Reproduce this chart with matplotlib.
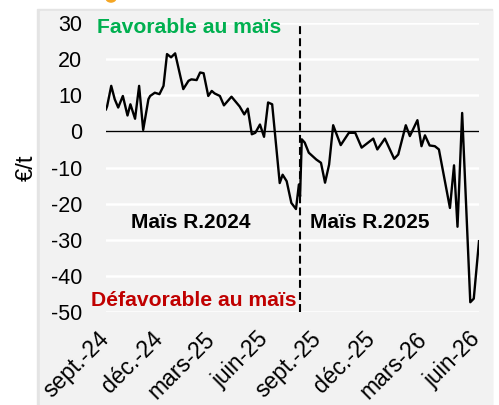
import matplotlib.pyplot as plt
import pandas as pd
from matplotlib.patches import Rectangle, Circle

plt.rcParams["font.family"] = ["Liberation Sans", "DejaVu Sans"]
plt.rcParams["axes.unicode_minus"] = False

# spread maïs (€/t)
dates = [
    "2024-09-01", "2024-09-03", "2024-09-10", "2024-09-16", "2024-09-22",
    "2024-09-30", "2024-10-08", "2024-10-13", "2024-10-21", "2024-10-28",
    "2024-11-04", "2024-11-13", "2024-11-16", "2024-11-24", "2024-12-02",
    "2024-12-09", "2024-12-15", "2024-12-22", "2024-12-29", "2025-01-12",
    "2025-01-21", "2025-01-26", "2025-02-04", "2025-02-10", "2025-02-16",
    "2025-02-24", "2025-03-02", "2025-03-07", "2025-03-16", "2025-03-23",
    "2025-04-05", "2025-04-19", "2025-04-27", "2025-05-03", "2025-05-10",
    "2025-05-16", "2025-05-24", "2025-05-31", "2025-06-07", "2025-06-14",
    "2025-06-27", "2025-07-02", "2025-07-09", "2025-07-17", "2025-07-25",
    "2025-07-30", "2025-08-01", "2025-08-04", "2025-08-09", "2025-08-16",
    "2025-08-29", "2025-09-06", "2025-09-13", "2025-09-20", "2025-09-27",
    "2025-10-10", "2025-10-24", "2025-11-04", "2025-11-15", "2025-12-05",
    "2025-12-12", "2025-12-25", "2026-01-10", "2026-01-17", "2026-01-30",
    "2026-02-06", "2026-02-19", "2026-02-26", "2026-03-04", "2026-03-12",
    "2026-03-21", "2026-03-28", "2026-04-16", "2026-04-23", "2026-04-29",
    "2026-05-07", "2026-05-21", "2026-05-27", "2026-06-05",
]
values = [
    6.1, 7.0, 12.6, 8.9, 6.6,
    9.8, 4.4, 7.5, 3.5, 12.6,
    0.4, 8.9, 9.8, 10.7, 10.3,
    12.6, 21.4, 20.5, 21.6, 11.7,
    14.0, 14.4, 14.2, 16.3, 16.1,
    9.8, 11.2, 10.5, 9.8, 7.2,
    9.6, 6.9, 4.7, 6.3, -0.8,
    -0.4, 1.9, -1.5, 8.0, 7.5,
    -14.3, -12.0, -13.8, -19.8, -21.5,
    -14.7, -18.0, -2.2, -3.1, -5.9,
    -7.8, -8.7, -14.2, -9.2, 1.7,
    -3.8, -0.4, -0.4, -4.5, -2.0,
    -5.0, -2.0, -7.6, -6.4, 1.7,
    -1.3, 3.1, -4.1, -1.1, -3.9,
    -4.1, -5.0, -21.2, -9.4, -26.4,
    5.1, -47.3, -46.3, -30.4,
]
split_date = "2025-08-01"
tick_dates = [
    "2024-09-01", "2024-12-01", "2025-03-01", "2025-06-01",
    "2025-09-01", "2025-12-01", "2026-03-01", "2026-06-01",
]
tick_labels = [
    "sept.-24", "déc.-24", "mars-25", "juin-25",
    "sept.-25", "déc.-25", "mars-26", "juin-26",
]
y_ticks = [30, 20, 10, 0, -10, -20, -30, -40, -50]

x = pd.to_datetime(dates)
bg = "#F2F2F2"

fig = plt.figure(figsize=(4.99, 4.05), dpi=100, facecolor="white")

# fond gris du graphique (style Excel) + petite ombre
fig.add_artist(Rectangle((37 / 499, 0), 455 / 499, 396 / 405,
                         transform=fig.transFigure, color="#E4E4E4", zorder=0))
fig.add_artist(Rectangle((40 / 499, 0), 452 / 499, 394 / 405,
                         transform=fig.transFigure, color=bg, zorder=0))
fig.add_artist(Circle((111 / 499, 1 - (-2) / 405), 5 / 499,
                      transform=fig.transFigure, color="#F5A623", zorder=1))

ax = fig.add_axes([106 / 499, 1 - 312 / 405, 373 / 499, 289 / 405])
ax.set_facecolor(bg)

ax.plot(x, values, color="black", lw=1.7, zorder=3)
ax.axhline(0, color="black", lw=1.0, zorder=2)
ax.axvline(pd.Timestamp(split_date), color="black", lw=1.5,
           linestyle=(0, (3.8, 2)), zorder=4)

ax.set_ylim(-50, 30)
ax.set_yticks(y_ticks)
ax.set_xlim(x[0], x[-1])
ax.set_xticks(pd.to_datetime(tick_dates))
ax.set_xticklabels(tick_labels, rotation=45, ha="right", va="center",
                   rotation_mode="anchor")

ax.grid(axis="y", color="white", lw=1.8, zorder=1)
ax.grid(axis="x", visible=False)
for sp in ax.spines.values():
    sp.set_visible(False)
ax.tick_params(axis="both", length=0, labelsize=15.5)
ax.tick_params(axis="y", pad=17)
ax.tick_params(axis="x", pad=17, labelsize=16.5)

ax.set_ylabel("€/t", fontsize=17)
ax.yaxis.set_label_coords(-0.182, 0.5)

ax.text(-0.024, 0.983, "Favorable au maïs", transform=ax.transAxes,
        color="#00B050", fontsize=15.2, fontweight="bold", va="center",
        ha="left", clip_on=False, zorder=5)
ax.text(-0.040, 0.0415, "Défavorable au maïs", transform=ax.transAxes,
        color="#C00000", fontsize=15.2, fontweight="bold", va="center",
        ha="left", clip_on=False, zorder=5)
ax.text(0.067, 0.311, "Maïs R.2024", transform=ax.transAxes,
        color="black", fontsize=15, fontweight="bold", va="center",
        ha="left", zorder=5)
ax.text(0.547, 0.311, "Maïs R.2025", transform=ax.transAxes,
        color="black", fontsize=15, fontweight="bold", va="center",
        ha="left", zorder=5)

fig.savefig("out.png", dpi=100, facecolor="white")
